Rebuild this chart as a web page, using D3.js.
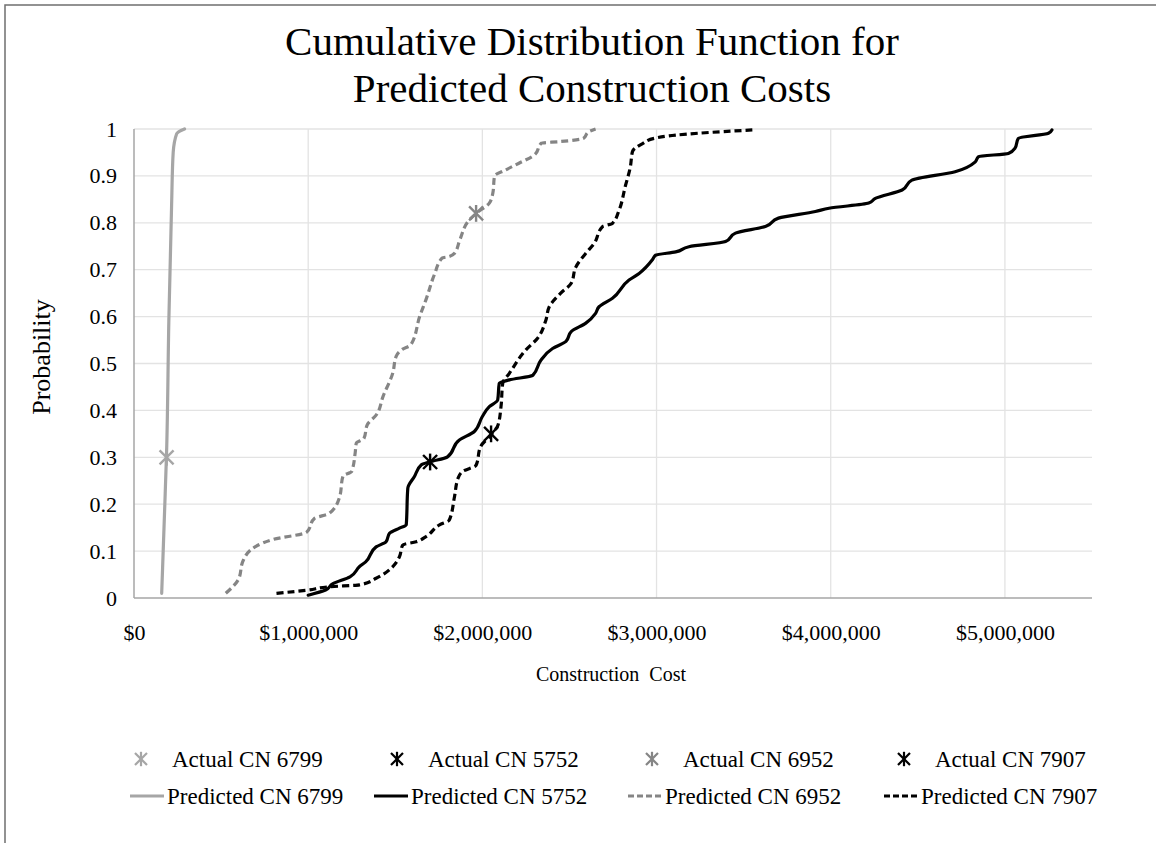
<!DOCTYPE html>
<html>
<head>
<meta charset="utf-8">
<script src="https://cdn.jsdelivr.net/npm/d3@7"></script>
<style>
  body { margin: 0; background: #fff; }
  svg text { font-family: "Liberation Serif", "Times New Roman", serif; fill: #000; }
</style>
</head>
<body>
<svg id="chart" width="1156" height="843"></svg>
<script>
// ---------- data ----------
const xTicks = [0, 1000000, 2000000, 3000000, 4000000, 5000000];
const yTicks = [0, 0.1, 0.2, 0.3, 0.4, 0.5, 0.6, 0.7, 0.8, 0.9, 1];

const cost6799 = [159000, 177000, 187000, 200000, 216000, 225000, 245000, 290000];
const prob6799 = [0.01, 0.2, 0.31, 0.59, 0.84, 0.95, 0.99, 1.0];

const cost5752 = [1000000,1100000,1140000,1240000,1295000,1330000,1390000,1447000,1467000,1524000,1563000,1572000,1610000,1650000,1696000,1800000,1868000,1954000,2000000,2040000,2088000,2097000,2155000,2290000,2336000,2403000,2480000,2510000,2594000,2650000,2670000,2747000,2842000,2900000,2976000,2995000,3110000,3186000,3396000,3453000,3625000,3700000,3912000,3990000,4218000,4256000,4410000,4466000,4714000,4830000,4848000,5020000,5058000,5077000,5250000,5270000];
const prob5752 = [0.006,0.017,0.03,0.045,0.067,0.077,0.109,0.12,0.138,0.149,0.156,0.234,0.259,0.284,0.29,0.301,0.337,0.355,0.387,0.408,0.422,0.458,0.465,0.475,0.507,0.532,0.547,0.568,0.586,0.607,0.621,0.639,0.678,0.692,0.721,0.731,0.738,0.749,0.76,0.778,0.792,0.81,0.824,0.831,0.842,0.852,0.87,0.891,0.909,0.93,0.941,0.948,0.959,0.98,0.991,0.998];

const cost6952 = [527000,600000,627000,700000,800000,990000,1037000,1120000,1180000,1200000,1250000,1270000,1276000,1320000,1340000,1390000,1430000,1486000,1505000,1540000,1590000,1640000,1680000,1725000,1770000,1810000,1840000,1870000,1925000,1964000,2040000,2060000,2070000,2135000,2210000,2300000,2340000,2440000,2580000,2610000,2650000];
const prob6952 = [0.01,0.04,0.08,0.11,0.125,0.14,0.17,0.18,0.215,0.26,0.27,0.31,0.33,0.34,0.37,0.39,0.43,0.48,0.515,0.53,0.54,0.60,0.64,0.69,0.725,0.728,0.735,0.763,0.806,0.82,0.842,0.863,0.90,0.913,0.927,0.945,0.97,0.973,0.98,0.994,1.0];

const cost7907 = [818000,1000000,1123000,1295000,1390000,1486000,1524000,1543000,1620000,1677000,1754000,1810000,1840000,1860000,1887000,1964000,1990000,2050000,2090000,2107000,2117000,2155000,2250000,2317000,2365000,2384000,2450000,2510000,2537000,2594000,2642000,2690000,2747000,2785000,2820000,2850000,2862000,2920000,2986000,3110000,3240000,3550000];
const prob7907 = [0.01,0.017,0.024,0.028,0.042,0.067,0.088,0.113,0.12,0.131,0.156,0.166,0.216,0.255,0.27,0.283,0.323,0.348,0.369,0.408,0.458,0.479,0.529,0.554,0.593,0.621,0.65,0.671,0.706,0.735,0.756,0.792,0.799,0.827,0.877,0.92,0.952,0.969,0.98,0.987,0.991,0.998];

const actualNames = ["Actual CN 6799", "Actual CN 5752", "Actual CN 6952", "Actual CN 7907"];
const actualCost = [187000, 1700000, 1964000, 2050000];
const actualProb = [0.30, 0.29, 0.82, 0.35];

const predictedNames = ["Predicted CN 6799", "Predicted CN 5752", "Predicted CN 6952", "Predicted CN 7907"];

// ---------- styles ----------
const seriesColor = ["#a6a6a6", "#000000", "#858585", "#000000"];
const seriesDash = [null, null, "7,4", "7,4"];

// ---------- layout ----------
const svg = d3.select("#chart");
const W = 1156, H = 843;
const m = { left: 134, right: 1092, top: 129, bottom: 598 };

svg.append("rect").attr("x", 5).attr("y", 5).attr("width", W + 20).attr("height", H + 20)
  .attr("fill", "#fff").attr("stroke", "#6f6f6f").attr("stroke-width", 1.5);

const x = d3.scaleLinear().domain([0, 5500000]).range([m.left, m.right]);
const y = d3.scaleLinear().domain([0, 1]).range([m.bottom, m.top]);

// gridlines
svg.append("g").selectAll("line").data(yTicks.filter(d => d > 0)).join("line")
  .attr("x1", m.left).attr("x2", m.right)
  .attr("y1", d => y(d)).attr("y2", d => y(d))
  .attr("stroke", "#e3e3e3").attr("stroke-width", 1.3);
svg.append("g").selectAll("line").data(xTicks.filter(d => d > 0)).join("line")
  .attr("x1", d => x(d)).attr("x2", d => x(d))
  .attr("y1", m.top).attr("y2", m.bottom)
  .attr("stroke", "#e3e3e3").attr("stroke-width", 1.3);

// axes lines
svg.append("line").attr("x1", m.left).attr("x2", m.left).attr("y1", m.top).attr("y2", m.bottom)
  .attr("stroke", "#a6a6a6").attr("stroke-width", 1.5);
svg.append("line").attr("x1", m.left).attr("x2", m.right).attr("y1", m.bottom).attr("y2", m.bottom)
  .attr("stroke", "#a6a6a6").attr("stroke-width", 1.5);

// tick labels via axes
const xAxis = d3.axisBottom(x).tickValues(xTicks).tickSize(0).tickPadding(0)
  .tickFormat(d => "$" + d3.format(",")(d));
const gx = svg.append("g").attr("transform", `translate(0,${m.bottom + 26})`).call(xAxis);
gx.select(".domain").remove();
gx.selectAll("text").attr("font-size", 22).attr("font-family", "Liberation Serif").attr("fill", "#000");

const yAxis = d3.axisLeft(y).tickValues(yTicks).tickSize(0).tickPadding(0)
  .tickFormat(d => d3.format("")(+d.toFixed(1)));
const gy = svg.append("g").attr("transform", `translate(${m.left - 17},0)`).call(yAxis);
gy.select(".domain").remove();
gy.selectAll("text").attr("font-size", 22).attr("font-family", "Liberation Serif").attr("fill", "#000");

// ---------- lines ----------
const series = [
  { c: cost6799, p: prob6799 },
  { c: cost5752, p: prob5752 },
  { c: cost6952, p: prob6952 },
  { c: cost7907, p: prob7907 }
];
const line = d3.line().x(d => x(d[0])).y(d => y(d[1])).curve(d3.curveMonotoneY);
series.forEach((s, i) => {
  const pts = s.c.map((v, j) => [v, s.p[j]]);
  svg.append("path").datum(pts)
    .attr("d", line)
    .attr("fill", "none")
    .attr("stroke", seriesColor[i])
    .attr("stroke-width", 3.2)
    .attr("stroke-linejoin", "round")
    .attr("stroke-linecap", seriesDash[i] ? "butt" : "round")
    .attr("stroke-dasharray", seriesDash[i]);
});

// ---------- star markers ----------
function star(g, cx, cy, r, color, w) {
  g.append("line").attr("x1", cx - r).attr("y1", cy - r).attr("x2", cx + r).attr("y2", cy + r)
    .attr("stroke", color).attr("stroke-width", w);
  g.append("line").attr("x1", cx - r).attr("y1", cy + r).attr("x2", cx + r).attr("y2", cy - r)
    .attr("stroke", color).attr("stroke-width", w);
  g.append("line").attr("x1", cx).attr("y1", cy - r * 1.2).attr("x2", cx).attr("y2", cy + r * 1.2)
    .attr("stroke", color).attr("stroke-width", w);
}
const mk = svg.append("g");
actualCost.forEach((c, i) => star(mk, x(c), y(actualProb[i]), 7, seriesColor[i], 2.4));

// ---------- titles ----------
svg.append("text").attr("x", 592).attr("y", 55).attr("text-anchor", "middle")
  .attr("font-size", 41).text("Cumulative Distribution Function for");
svg.append("text").attr("x", 592).attr("y", 102).attr("text-anchor", "middle")
  .attr("font-size", 41).text("Predicted Construction Costs");

svg.append("text").attr("x", 611).attr("y", 681).attr("text-anchor", "middle")
  .attr("font-size", 20).style("white-space", "pre").text("Construction  Cost");

svg.append("text").attr("transform", "translate(50,357) rotate(-90)").attr("text-anchor", "middle")
  .attr("font-size", 26).text("Probability");

// ---------- legend ----------
const legX = [141, 397, 652, 904];
const lg = svg.append("g");
actualNames.forEach((n, i) => {
  star(lg, legX[i], 759, 6, seriesColor[i], 2.2);
  lg.append("text").attr("x", legX[i] + 31).attr("y", 767).attr("font-size", 23).text(n);
});
const legLX = [130, 374, 628, 884];
predictedNames.forEach((n, i) => {
  lg.append("line").attr("x1", legLX[i]).attr("x2", legLX[i] + 34).attr("y1", 796).attr("y2", 796)
    .attr("stroke", seriesColor[i]).attr("stroke-width", 3.2)
    .attr("stroke-dasharray", seriesDash[i] ? "6,3" : null);
  lg.append("text").attr("x", legLX[i] + 37).attr("y", 804).attr("font-size", 23).text(n);
});
</script>
</body>
</html>
